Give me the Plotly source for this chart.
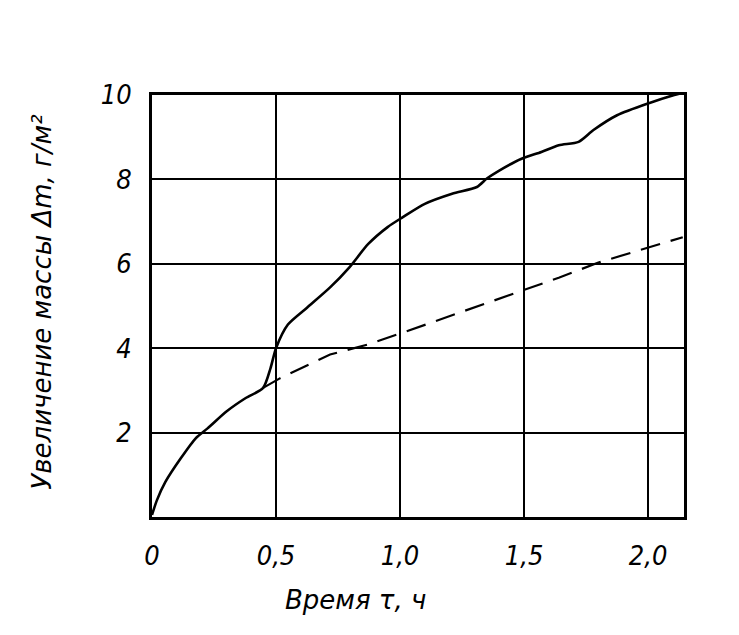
import plotly.graph_objects as go

# solid curve (with the jump near 0.45 h)
solid_t = [0.0, 0.02, 0.054, 0.116, 0.177, 0.224, 0.30, 0.378, 0.448, 0.478, 0.50, 0.548, 0.625,
           0.718, 0.795, 0.872, 0.95, 1.01, 1.10, 1.21, 1.31, 1.35, 1.40, 1.49, 1.57,
           1.64, 1.72, 1.78, 1.875, 2.0, 2.106, 2.14]
solid_m = [0.05, 0.4, 0.83, 1.39, 1.87, 2.1, 2.5, 2.82, 3.06, 3.53, 4.0, 4.56, 4.96,
           5.44, 5.91, 6.47, 6.87, 7.1, 7.42, 7.66, 7.82, 8.02, 8.21, 8.49, 8.65,
           8.81, 8.89, 9.17, 9.52, 9.8, 10.0, 10.05]

# dashed continuation
dash_t = [0.448, 0.517, 0.718, 0.872, 1.026, 1.18, 1.335, 1.49, 1.64, 1.80, 2.0, 2.14]
dash_m = [3.06, 3.29, 3.85, 4.09, 4.4, 4.72, 5.04, 5.36, 5.67, 6.03, 6.39, 6.63]

x_ticks = [0, 0.5, 1.0, 1.5, 2.0]
x_labels = ["0", "0,5", "1,0", "1,5", "2,0"]
y_ticks = [2, 4, 6, 8, 10]
y_labels = ["2", "4", "6", "8", "10"]

FONT = "DejaVu Sans"
TICKFONT = dict(family="Liberation Sans Narrow, DejaVu Sans Condensed, DejaVu Sans",
                size=27, color="black", style="italic")

fig = go.Figure()
fig.add_trace(go.Scatter(x=dash_t, y=dash_m, mode="lines",
                         line=dict(color="black", width=2.2, dash="20px,11px"),
                         showlegend=False, hoverinfo="skip"))
fig.add_trace(go.Scatter(x=solid_t, y=solid_m, mode="lines",
                         line=dict(color="black", width=2.6, shape="spline", smoothing=0.7),
                         showlegend=False, hoverinfo="skip", cliponaxis=False))

fig.update_layout(
    width=739, height=635,
    margin=dict(l=144, r=63, t=87, b=126),
    paper_bgcolor="white", plot_bgcolor="white",
    font=dict(family=FONT, color="black"),
    xaxis=dict(range=[0, 2.145], tickvals=x_ticks, ticktext=x_labels,
               showgrid=True, gridcolor="black", gridwidth=2,
               showline=True, linecolor="black", linewidth=3, mirror=True,
               zeroline=False, ticks="",
               tickfont=TICKFONT, ticklabelstandoff=13),
    yaxis=dict(range=[0, 10], tickvals=y_ticks, ticktext=y_labels,
               showgrid=True, gridcolor="black", gridwidth=2,
               showline=True, linecolor="black", linewidth=3, mirror=True,
               zeroline=False, ticks="",
               tickfont=TICKFONT, ticklabelstandoff=12),
    annotations=[
        dict(text="<i>Время τ, ч</i>", xref="paper", yref="paper", x=0.383, y=-0.197,
             xanchor="center", yanchor="middle", showarrow=False,
             font=dict(family=FONT, size=26, color="black")),
        dict(text="<i>Увеличение массы Δm, г/м²</i>", xref="paper", yref="paper",
             x=-0.207, y=0.51, xanchor="center", yanchor="middle", textangle=-90,
             showarrow=False, font=dict(family=FONT, size=26, color="black")),
    ],
)

fig.write_html("out.html")
